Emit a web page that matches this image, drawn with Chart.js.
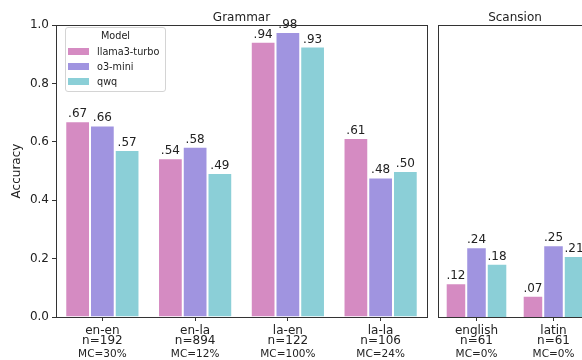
<!DOCTYPE html>
<html><head><meta charset="utf-8">
<script src="https://cdn.jsdelivr.net/npm/chart.js@4.4.1/dist/chart.umd.min.js"></script>
<style>
html,body{margin:0;padding:0;width:582px;height:360px;overflow:hidden;background:#fff;}
#c1{position:absolute;left:0;top:0;}
#c2{position:absolute;left:430px;top:0;}
#legend{position:absolute;left:65px;top:27px;width:101px;height:65px;border:1px solid #d4d4d4;border-radius:3px;background:rgba(255,255,255,0.85);font-family:'DejaVu Sans';font-size:9.7px;color:#222;box-sizing:border-box;z-index:2;}
#legend .t{position:absolute;left:0;width:100%;text-align:center;line-height:12px;}
#legend .sw{position:absolute;left:2px;width:21px;height:7px;}
#legend .lb{position:absolute;left:31px;line-height:12px;white-space:nowrap;}
</style>
</head><body>
<canvas id="c1" width="440" height="360"></canvas>
<canvas id="c2" width="200" height="360"></canvas>
<div id="legend"></div>
<script>
const FONT = "'DejaVu Sans'";
// ---- data ----
const grammarCategories = ['en-en','en-la','la-en','la-la'];
const grammarN = [192, 894, 122, 106];
const grammarMC = ['30%','12%','100%','24%'];
const scansionCategories = ['english','latin'];
const scansionN = [61, 61];
const scansionMC = ['0%','0%'];
const models = ['llama3-turbo','o3-mini','qwq'];
const modelColors = ['#D58BC2','#A094E0','#8BCFD7'];
const grammarLlama = [0.67, 0.544, 0.943, 0.613];
const grammarO3    = [0.656, 0.583, 0.976, 0.478];
const grammarQwq   = [0.572, 0.493, 0.926, 0.50];
const scansionLlama = [0.116, 0.073];
const scansionO3    = [0.239, 0.246];
const scansionQwq   = [0.182, 0.209];
const yTicks = [0, 0.2, 0.4, 0.6, 0.8, 1.0];

function fmt(v){ return '.' + String(Math.round(v*100)).padStart(2,'0'); }

function makeDatasets(series){
  return series.map((d,i)=>({
    label: models[i], data: d, backgroundColor: modelColors[i],
    borderColor:'#ffffff', borderWidth:1,
    barPercentage:1.0, categoryPercentage:0.8
  }));
}

const framePlugin = { id:'frame', afterDraw(chart){
  const {ctx, chartArea:a} = chart;
  ctx.save(); ctx.strokeStyle='#333'; ctx.lineWidth=1;
  const l=Math.round(a.left)+0.5, t=Math.round(a.top)+0.5, r=Math.round(a.right)+0.5, b=Math.round(a.bottom)+0.5;
  ctx.strokeRect(l,t,r-l,b-t);
  ctx.restore();
}};

const valuePlugin = { id:'values', afterDatasetsDraw(chart){
  const ctx=chart.ctx; ctx.save();
  ctx.font='12px '+FONT; ctx.fillStyle='#222'; ctx.textAlign='center'; ctx.textBaseline='alphabetic';
  chart.data.datasets.forEach((ds,di)=>{
    chart.getDatasetMeta(di).data.forEach((bar,i)=>{
      ctx.fillText(fmt(ds.data[i]), bar.x, bar.y-4);
    });
  });
  ctx.restore();
}};

function xAxes(cats, ns, mcs){
  return {
    x: { type:'category', offset:true, weight:0, position:'bottom',
      grid:{display:true, drawOnChartArea:false, offset:false, tickLength:4, color:'#333', tickWidth:1},
      border:{display:true, color:'#333', width:1},
      ticks:{color:'#222', padding:5, maxRotation:0, autoSkip:false,
        font:{family:FONT, size:12, lineHeight:0.85},
        callback:(v,i)=>[cats[i], 'n='+ns[i]]},
      afterFit:s=>{ s.height=30; } },
    x2: { type:'category', offset:true, weight:1, position:'bottom', labels:cats,
      grid:{display:false, drawTicks:false, tickLength:0}, border:{display:false},
      ticks:{color:'#222', padding:1, maxRotation:0, autoSkip:false,
        font:{family:FONT, size:10.5},
        callback:(v,i)=>'MC='+mcs[i]},
      afterFit:s=>{ s.height=13; } }
  };
}

function titleOpt(text){
  return {display:true, text:text, fullSize:false, color:'#222',
    font:{family:FONT, size:12, weight:'normal', lineHeight:1.25}, padding:{top:10, bottom:0}};
}

new Chart(document.getElementById('c1'), {
  type:'bar',
  data:{labels:grammarCategories, datasets:makeDatasets([grammarLlama, grammarO3, grammarQwq])},
  options:{responsive:false, animation:false, devicePixelRatio:1,
    layout:{padding:{left:0, right:13, top:0, bottom:0}},
    plugins:{legend:{display:false}, tooltip:{enabled:false}, title:titleOpt('Grammar')},
    scales:Object.assign(xAxes(grammarCategories, grammarN, grammarMC), {
      y:{min:0, max:1,
        afterBuildTicks:s=>{ s.ticks = yTicks.map(v=>({value:v})); },
        afterFit:s=>{ s.width=56; },
        grid:{display:true, drawOnChartArea:false, tickLength:4, color:'#333'},
        border:{display:true, color:'#333', width:1},
        ticks:{color:'#222', padding:3, font:{family:FONT, size:12}, callback:v=>Number(v).toFixed(1)},
        title:{display:true, text:'Accuracy', color:'#222', font:{family:FONT, size:12}, padding:{top:10, bottom:0}}}
    })
  },
  plugins:[framePlugin, valuePlugin]
});

new Chart(document.getElementById('c2'), {
  type:'bar',
  data:{labels:scansionCategories, datasets:makeDatasets([scansionLlama, scansionO3, scansionQwq])},
  options:{responsive:false, animation:false, devicePixelRatio:1,
    layout:{padding:{left:8, right:38, top:0, bottom:0}},
    plugins:{legend:{display:false}, tooltip:{enabled:false}, title:titleOpt('Scansion')},
    scales:Object.assign(xAxes(scansionCategories, scansionN, scansionMC), {
      y:{display:false, min:0, max:1}
    })
  },
  plugins:[framePlugin, valuePlugin]
});

// legend (HTML, built from the model arrays)
const lg = document.getElementById('legend');
let html = '<div class="t" style="top:2px">Model</div>';
models.forEach((m,i)=>{
  const cy = 24 + i*15;
  html += '<div class="sw" style="top:'+(cy-4)+'px;background:'+modelColors[i]+'"></div>';
  html += '<div class="lb" style="top:'+(cy-6.5)+'px">'+m+'</div>';
});
lg.innerHTML = html;
</script>
</body></html>
